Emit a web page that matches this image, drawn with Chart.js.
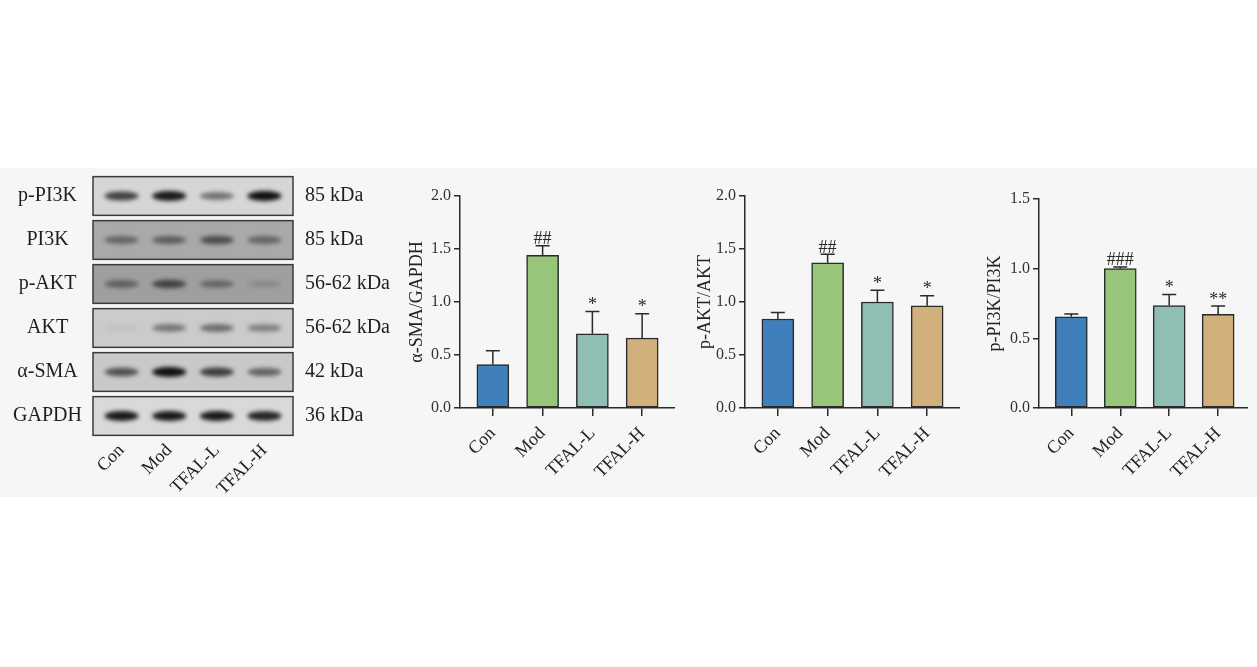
<!DOCTYPE html>
<html>
<head>
<meta charset="utf-8">
<script src="https://cdn.jsdelivr.net/npm/chart.js@4.4.1/dist/chart.umd.min.js"></script>
<style>
  html, body { margin: 0; padding: 0; background: #fff; }
  #stage { position: relative; width: 1257px; height: 667px; overflow: hidden; }
  #band { position: absolute; left: 0; top: 168px; width: 1257px; height: 329px; background: #f6f6f6; }
  canvas { position: absolute; }
</style>
</head>
<body>
<div id="stage">
  <div id="band"></div>
  <canvas id="blot" width="400" height="330" style="left:0px;top:170px"></canvas>
  <canvas id="smaChart" width="273" height="310" style="left:402px;top:186px"></canvas>
  <canvas id="aktChart" width="270" height="310" style="left:690px;top:186px"></canvas>
  <canvas id="pi3kChart" width="268" height="307" style="left:980px;top:189px"></canvas>
</div>
<script>
const groups = ['Con', 'Mod', 'TFAL-L', 'TFAL-H'];

// α-SMA/GAPDH
const smaMean = [0.41, 1.44, 0.70, 0.66];
const smaSem = [0.13, 0.09, 0.21, 0.23];
const smaSig = ['', '##', '*', '*'];
const smaTicks = [0, 0.5, 1.0, 1.5, 2.0];

// p-AKT/AKT
const aktMean = [0.84, 1.37, 1.00, 0.965];
const aktSem = [0.06, 0.08, 0.11, 0.095];
const aktSig = ['', '##', '*', '*'];
const aktTicks = [0, 0.5, 1.0, 1.5, 2.0];

// p-PI3K/PI3K
const pi3kMean = [0.655, 1.00, 0.735, 0.672];
const pi3kSem = [0.02, 0.012, 0.08, 0.06];
const pi3kSig = ['', '###', '*', '**'];
const pi3kTicks = [0, 0.5, 1.0, 1.5];

// western blot: row names, sizes, band density per lane
const proteins = ['p-PI3K', 'PI3K', 'p-AKT', 'AKT', 'α-SMA', 'GAPDH'];
const weights = ['85 kDa', '85 kDa', '56-62 kDa', '56-62 kDa', '42 kDa', '36 kDa'];
const pPI3KBands = [0.75, 0.95, 0.5, 1.0];
const PI3KBands = [0.45, 0.5, 0.6, 0.45];
const pAKTBands = [0.45, 0.65, 0.4, 0.15];
const AKTBands = [0.05, 0.45, 0.5, 0.4];
const aSMABands = [0.65, 1.0, 0.75, 0.55];
const GAPDHBands = [0.95, 0.95, 0.95, 0.9];

const blotRows = [pPI3KBands, PI3KBands, pAKTBands, AKTBands, aSMABands, GAPDHBands];
const rowShade = ['#d6d6d6', '#a9a9a9', '#9f9f9f', '#cbcbcb', '#c9c9c9', '#d9d9d9'];
const barColors = ['#3f7fbc', '#97c67a', '#8fbfb4', '#d1b07c'];
const serif = '"Liberation Serif", "Times New Roman", serif';
const ink = '#2a2a2a';

function errorBarPlugin(mean, sem, sig) {
    return {
        id: 'errorBars',
        afterDatasetsDraw(chart) {
            const {ctx, scales: {x, y}} = chart;
            ctx.save();
            ctx.strokeStyle = ink;
            ctx.fillStyle = ink;
            ctx.lineWidth = 1.5;
            ctx.font = '18px ' + serif;
            ctx.textAlign = 'center';
            ctx.textBaseline = 'alphabetic';
            mean.forEach((m, i) => {
                const px = x.getPixelForValue(i);
                const y0 = y.getPixelForValue(m);
                const y1 = y.getPixelForValue(m + sem[i]);
                ctx.beginPath();
                ctx.moveTo(px, y0);
                ctx.lineTo(px, y1);
                ctx.moveTo(px - 7, y1);
                ctx.lineTo(px + 7, y1);
                ctx.stroke();
                if (sig[i]) ctx.fillText(sig[i], px, y1 - 1.5);
            });
            ctx.restore();
        }
    };
}

function makeBarChart(id, mean, sem, sig, ticks, title, yWidth, xMax) {
    const yMax = ticks[ticks.length - 1];
    return new Chart(document.getElementById(id), {
        type: 'bar',
        data: {
            datasets: [{
                data: mean.map((v, i) => ({x: i, y: v})),
                backgroundColor: barColors,
                borderColor: ink,
                borderWidth: 1.5,
                borderSkipped: false,
                barThickness: 32
            }]
        },
        options: {
            responsive: false,
            animation: false,
            layout: {padding: {top: 10, left: 0, right: 0, bottom: 0}},
            plugins: {legend: {display: false}, tooltip: {enabled: false}},
            scales: {
                x: {
                    type: 'linear',
                    min: -0.66,
                    max: xMax,
                    offset: false,
                    grid: {offset: false, drawOnChartArea: false, drawTicks: true, tickLength: 8, color: ink, lineWidth: 1.5},
                    border: {display: true, color: ink, width: 1.5},
                    afterBuildTicks: s => { s.ticks = groups.map((g, i) => ({value: i})); },
                    afterFit: s => { s.height = 88; s.paddingLeft = 0; s.paddingRight = 0; },
                    ticks: {
                        callback: v => groups[v],
                        autoSkip: false,
                        minRotation: 45,
                        maxRotation: 45,
                        padding: 7,
                        color: '#222',
                        font: {family: serif, size: 18}
                    }
                },
                y: {
                    min: 0,
                    max: yMax,
                    grid: {drawOnChartArea: false, drawTicks: true, tickLength: 6, color: ink, lineWidth: 1.5},
                    border: {display: true, color: ink, width: 1.5},
                    afterBuildTicks: s => { s.ticks = ticks.map(v => ({value: v})); },
                    afterFit: s => { s.width = yWidth; s.paddingTop = 0; s.paddingBottom = 0; },
                    ticks: {
                        callback: v => v.toFixed(1),
                        padding: 3,
                        color: '#333',
                        font: {family: serif, size: 16}
                    },
                    title: {
                        display: true,
                        text: title,
                        color: '#222',
                        font: {family: serif, size: 18}
                    }
                }
            }
        },
        plugins: [errorBarPlugin(mean, sem, sig)]
    });
}

makeBarChart('smaChart', smaMean, smaSem, smaSig, smaTicks, 'α-SMA/GAPDH', 58, 3.66);
makeBarChart('aktChart', aktMean, aktSem, aktSig, aktTicks, 'p-AKT/AKT', 55, 3.66);
makeBarChart('pi3kChart', pi3kMean, pi3kSem, pi3kSig, pi3kTicks, 'p-PI3K/PI3K', 59, 3.61);

// blot panel: rows and lanes come from the chart's own scales
const blotPainter = {
    id: 'blotPainter',
    afterDraw(chart) {
        const {ctx, chartArea: a, scales: {x, y}} = chart;
        const rowH = Math.abs(y.getPixelForValue(1) - y.getPixelForValue(0));
        blotRows.forEach((dens, r) => {
            const cy = y.getPixelForValue(r);
            const top = cy - rowH * 0.44;
            const h = rowH * 0.88;
            ctx.save();
            ctx.beginPath();
            ctx.rect(a.left, top, a.right - a.left, h);
            ctx.clip();
            ctx.fillStyle = rowShade[r];
            ctx.fillRect(a.left, top, a.right - a.left, h);
            ctx.filter = 'blur(2px)';
            dens.forEach((d, l) => {
                const cx = x.getPixelForValue(l);
                ctx.fillStyle = 'rgba(15,15,15,' + d + ')';
                ctx.beginPath();
                ctx.ellipse(cx, cy, 17, 3 + 2 * d, 0, 0, Math.PI * 2);
                ctx.fill();
            });
            ctx.filter = 'none';
            ctx.restore();
            ctx.strokeStyle = '#3a3a3a';
            ctx.lineWidth = 1.5;
            ctx.strokeRect(a.left, top, a.right - a.left, h);
        });
    }
};

new Chart(document.getElementById('blot'), {
    type: 'scatter',
    data: {datasets: []},
    options: {
        responsive: false,
        animation: false,
        layout: {padding: {top: 4, left: 0, right: 0, bottom: 0}},
        plugins: {legend: {display: false}, tooltip: {enabled: false}},
        scales: {
            x: {
                type: 'linear',
                min: -0.6,
                max: 3.6,
                grid: {display: false},
                border: {display: false},
                afterBuildTicks: s => { s.ticks = groups.map((g, i) => ({value: i})); },
                afterFit: s => { s.height = 62; s.paddingLeft = 0; s.paddingRight = 0; },
                ticks: {
                    callback: v => groups[v],
                    autoSkip: false,
                    minRotation: 45,
                    maxRotation: 45,
                    padding: -6,
                    color: '#1e1e1e',
                    font: {family: serif, size: 18}
                }
            },
            y: {
                type: 'category',
                labels: proteins,
                offset: true,
                position: 'left',
                grid: {display: false},
                border: {display: false},
                afterFit: s => { s.width = 93; s.paddingTop = 0; s.paddingBottom = 0; },
                ticks: {crossAlign: 'center', padding: 3, color: '#1e1e1e', font: {family: serif, size: 20}}
            },
            y2: {
                type: 'category',
                labels: weights,
                offset: true,
                position: 'right',
                grid: {display: false},
                border: {display: false},
                afterFit: s => { s.width = 107; s.paddingTop = 0; s.paddingBottom = 0; },
                ticks: {crossAlign: 'near', padding: 4, color: '#1e1e1e', font: {family: serif, size: 20}}
            }
        }
    },
    plugins: [blotPainter]
});
</script>
</body>
</html>
